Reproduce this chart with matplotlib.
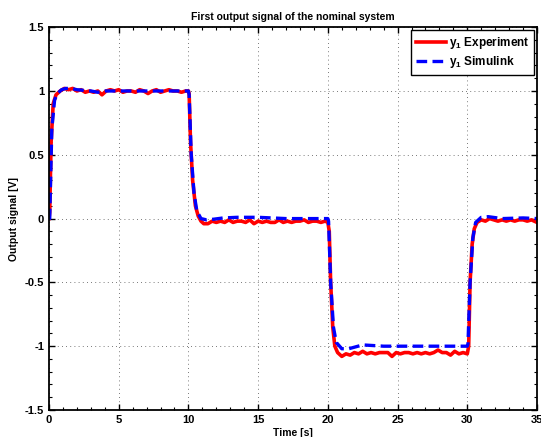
import matplotlib
matplotlib.use("Agg")
import matplotlib.pyplot as plt
from matplotlib.ticker import AutoMinorLocator

plt.rcParams["font.family"] = ["Liberation Sans", "DejaVu Sans"]
plt.rcParams["font.weight"] = "bold"
plt.rcParams["mathtext.fontset"] = "custom"
plt.rcParams["mathtext.rm"] = "Liberation Sans:bold"
plt.rcParams["mathtext.bf"] = "Liberation Sans:bold"
plt.rcParams["mathtext.it"] = "Liberation Sans:bold"

# Experiment (red)
t_exp = [0, 0.05, 0.15, 0.3, 0.5, 0.8, 1.1, 1.4, 1.7, 2.0, 2.3, 2.6, 2.9, 3.2, 3.5,
         3.8, 4.1, 4.4, 4.7, 5.0, 5.3, 5.6, 5.9, 6.2, 6.5, 6.8, 7.1, 7.4, 7.7, 8.0,
         8.3, 8.6, 8.9, 9.2, 9.5, 9.8, 10.0,
         10.05, 10.15, 10.3, 10.5, 10.7, 10.9, 11.1, 11.4, 11.7, 12.0, 12.3, 12.6,
         12.9, 13.2, 13.5, 13.8, 14.1, 14.4, 14.7, 15.0, 15.3, 15.6, 15.9, 16.2,
         16.5, 16.8, 17.1, 17.4, 17.7, 18.0, 18.3, 18.6, 18.9, 19.2, 19.5, 19.8, 20.0,
         20.1, 20.2, 20.35, 20.5, 20.7, 21.0, 21.3, 21.6, 21.9, 22.2, 22.5, 22.8,
         23.1, 23.4, 23.7, 24.0, 24.3, 24.6, 24.9, 25.2, 25.5, 25.8, 26.1, 26.4,
         26.7, 27.0, 27.3, 27.6, 27.9, 28.2, 28.5, 28.8, 29.1, 29.4, 29.7, 30.0,
         30.1, 30.2, 30.35, 30.5, 30.7, 31.0, 31.3, 31.6, 31.9, 32.2, 32.5, 32.8,
         33.1, 33.4, 33.7, 34.0, 34.3, 34.6, 35.0]
y_exp = [0, 0.05, 0.6, 0.9, 0.97, 1.0, 1.02, 1.01, 1.02, 1.0, 1.01, 0.99, 1.0, 0.99, 1.0,
         0.97, 1.0, 1.01, 1.0, 1.01, 0.99, 1.0, 1.0, 0.99, 1.01, 1.0, 0.98, 1.0, 1.01, 0.99,
         1.0, 1.01, 1.0, 1.0, 0.99, 1.0, 1.0,
         0.98, 0.6, 0.3, 0.1, 0.02, -0.02, -0.04, -0.04, -0.02, -0.03, -0.02, -0.03,
         -0.01, -0.03, -0.02, -0.02, -0.03, -0.01, -0.04, -0.02, -0.03, -0.02, -0.03, -0.03,
         -0.01, -0.03, -0.02, -0.03, -0.02, -0.02, -0.01, -0.03, -0.02, -0.02, -0.03, -0.02, -0.03,
         -0.1, -0.5, -0.85, -1.0, -1.05, -1.08, -1.06, -1.07, -1.05, -1.06, -1.04, -1.06,
         -1.05, -1.06, -1.05, -1.05, -1.05, -1.08, -1.05, -1.06, -1.05, -1.05, -1.06, -1.05,
         -1.06, -1.05, -1.06, -1.05, -1.03, -1.05, -1.05, -1.07, -1.04, -1.06, -1.05, -1.06,
         -1.0, -0.5, -0.2, -0.08, -0.03, -0.01, -0.02, 0.0, -0.01, -0.02, -0.01, -0.02,
         -0.01, -0.02, -0.01, -0.01, -0.02, -0.01, -0.03]

# Simulink (blue)
t_sim = [0, 0.05, 0.2, 0.4, 0.6, 0.9, 1.2, 1.6, 2.0, 3.0, 3.5, 4.0, 6.0, 8.0, 10.0,
         10.05, 10.2, 10.4, 10.6, 10.9, 11.3, 11.8, 12.5, 13.5, 15.0, 17.0, 20.0,
         20.05, 20.2, 20.4, 20.6, 21.0, 21.5, 22.5, 24.0, 27.0, 30.0,
         30.05, 30.2, 30.4, 30.6, 31.0, 31.5, 32.5, 34.0, 35.0]
y_sim = [0, 0.0, 0.7, 0.93, 0.98, 1.01, 1.02, 1.02, 1.01, 1.0, 0.99, 1.0, 1.0, 1.0, 1.0,
         0.97, 0.5, 0.2, 0.06, 0.0, -0.01, -0.005, 0.005, 0.01, 0.01, 0.0, 0.0,
         -0.02, -0.5, -0.85, -0.97, -1.02, -1.02, -0.99, -1.0, -1.0, -1.0,
         -0.98, -0.5, -0.15, -0.03, 0.01, 0.015, 0.0, 0.005, 0.0]

fig = plt.figure(figsize=(5.41, 4.37), dpi=100)
ax = fig.add_axes([0.0906, 0.0618, 0.902, 0.876])

ax.plot(t_exp, y_exp, color="red", lw=2.6, label=r"$\mathbf{y_1}$ Experiment")
ax.plot(t_sim, y_sim, color="blue", lw=2.4, ls=(0, (3.2, 1.6)), label=r"$\mathbf{y_1}$ Simulink")

ax.set_xlim(0, 35)
ax.set_ylim(-1.5, 1.5)
ax.set_xticks(range(0, 36, 5))
ax.set_yticks([-1.5, -1, -0.5, 0, 0.5, 1, 1.5])
ax.set_yticklabels(["-1.5", "-1", "-0.5", "0", "0.5", "1", "1.5"])
ax.xaxis.set_minor_locator(AutoMinorLocator(5))
ax.yaxis.set_minor_locator(AutoMinorLocator(5))
ax.tick_params(which="both", direction="in", top=True, right=True, labelsize=8)
ax.tick_params(which="major", length=4, width=1)
ax.tick_params(which="minor", length=2, width=0.8)
for s in ax.spines.values():
    s.set_linewidth(1.3)
ax.grid(True, which="major", color="black", ls=(0, (1, 4)), lw=0.6, alpha=0.7)

ax.set_title("First output signal of the nominal system", fontsize=7.5,
             fontweight="bold", pad=5)
ax.set_xlabel("Time [s]", fontsize=7.5, fontweight="bold", labelpad=2)
ax.set_ylabel("Output signal [V]", fontsize=7.5, fontweight="bold", labelpad=4)

leg = ax.legend(loc="upper right", fontsize=8.5, fancybox=False, edgecolor="black",
                framealpha=1, borderpad=0.4, handlelength=2.6, handletextpad=0.2,
                labelspacing=0.3, borderaxespad=0.25)
leg.get_frame().set_linewidth(1.0)

fig.savefig("out.png", dpi=100)
